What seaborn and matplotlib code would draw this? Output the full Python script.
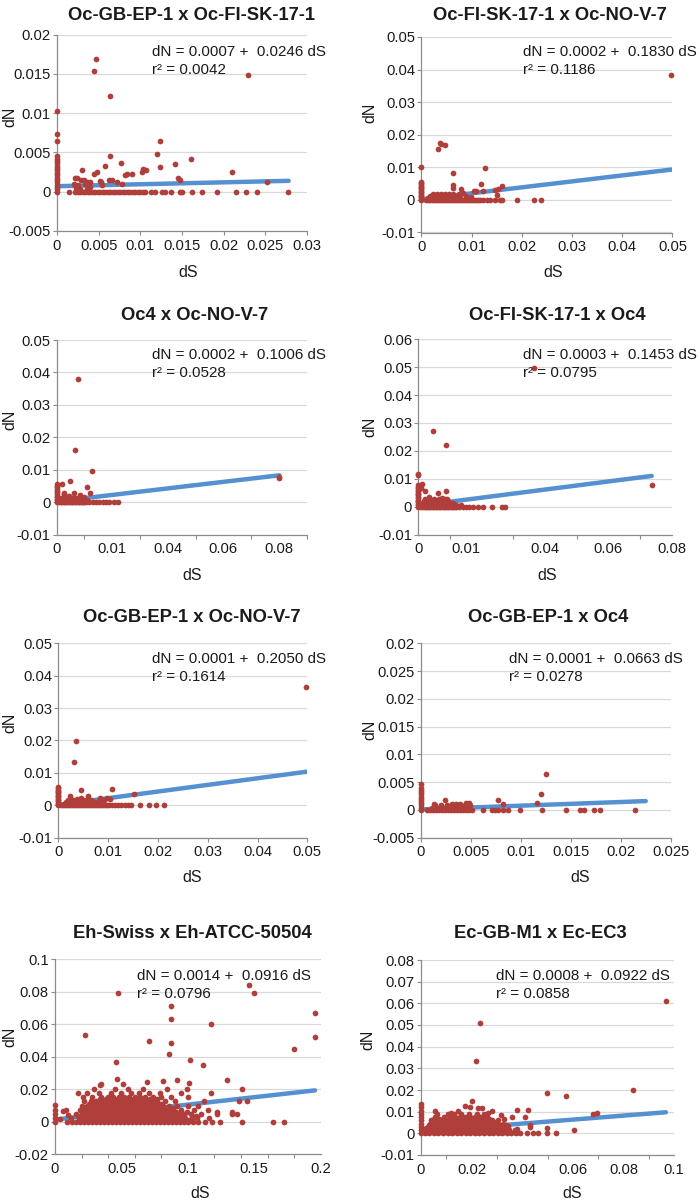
import numpy as np
import pandas as pd
import matplotlib.pyplot as plt
import seaborn as sns

sns.set_style("white")
plt.rcParams['font.family'] = ['Liberation Sans', 'DejaVu Sans']

DOT = '#B03E3A'
LINE = '#5590D0'
GRID = '#D9D9D9'
AXIS = '#8C8C8C'
W, H = 700, 1203

# ---------------------------------------------------------------------------
# Panel text
# ---------------------------------------------------------------------------
titles = ['Oc-GB-EP-1 x Oc-FI-SK-17-1', 'Oc-FI-SK-17-1 x Oc-NO-V-7',
          'Oc4 x Oc-NO-V-7', 'Oc-FI-SK-17-1 x Oc4',
          'Oc-GB-EP-1 x Oc-NO-V-7', 'Oc-GB-EP-1 x Oc4',
          'Eh-Swiss x Eh-ATCC-50504', 'Ec-GB-M1 x Ec-EC3']
intercepts = [0.0007, 0.0002, 0.0002, 0.0003, 0.0001, 0.0001, 0.0014, 0.0008]
slopes = [0.0246, 0.1830, 0.1006, 0.1453, 0.2050, 0.0663, 0.0916, 0.0922]
r_squared = ['0.0042', '0.1186', '0.0528', '0.0795', '0.1614', '0.0278', '0.0796', '0.0858']
fit_end = [0.0278, 0.05, 0.0802, 0.0737, 0.05, 0.0225, 0.1957, 0.0968]

# ---------------------------------------------------------------------------
# Points: on the dS = 0 axis, on the dN = 0 line, rows of dense clusters, others
# ---------------------------------------------------------------------------
p1_axis_dn = [0, 0.0003, 0.0006, 0.0009, 0.0012, 0.0015, 0.0018, 0.0021, 0.0024, 0.0027,
              0.003, 0.0033, 0.0036, 0.0039, 0.0042, 0.0045, 0.0065, 0.0074, 0.0103]
p1_zero_ds = [0.0014, 0.0022, 0.0025, 0.0028, 0.0031, 0.0034, 0.0037, 0.004, 0.0043, 0.0046,
              0.0049, 0.0052, 0.0055, 0.0058, 0.0061, 0.0064, 0.0067, 0.007, 0.0073, 0.0076,
              0.0079, 0.0082, 0.0085, 0.0088, 0.0091, 0.0094, 0.0097, 0.01, 0.0103, 0.0106,
              0.0113, 0.0117, 0.0126, 0.013, 0.0137, 0.0147, 0.015, 0.0162, 0.0174, 0.0192,
              0.0215, 0.0227, 0.024, 0.0277]
p1_points = [(0.0047, 0.0169), (0.0044, 0.0154), (0.0229, 0.0148), (0.0064, 0.0122),
             (0.0124, 0.0065), (0.012, 0.0048), (0.0064, 0.0046), (0.0161, 0.0042),
             (0.0077, 0.0037), (0.0142, 0.0035), (0.0058, 0.0033), (0.0124, 0.0031),
             (0.003, 0.0028), (0.0107, 0.0028), (0.0103, 0.0029), (0.0102, 0.0025),
             (0.0048, 0.0025), (0.0044, 0.0023), (0.009, 0.0023), (0.0084, 0.0023),
             (0.0081, 0.0021), (0.021, 0.0025), (0.0145, 0.0017), (0.0147, 0.0015),
             (0.0021, 0.0017), (0.0024, 0.0017), (0.0032, 0.0015), (0.0029, 0.0015),
             (0.0036, 0.0012), (0.002, 0.001), (0.0025, 0.0008), (0.0034, 0.001),
             (0.004, 0.0012), (0.0053, 0.0012), (0.0062, 0.0015), (0.0066, 0.0015),
             (0.0072, 0.0012), (0.0078, 0.001), (0.0051, 0.0013), (0.0054, 0.0008),
             (0.0039, 0.0006), (0.0036, 0.0004), (0.0252, 0.0012), (0.0028, 0.0003),
             (0.0023, 0.0005)]

p2_axis_dn = [0, 0.0004, 0.0008, 0.0012, 0.0016, 0.002, 0.0024, 0.0028, 0.0032, 0.0036,
              0.004, 0.0044, 0.0048, 0.0052, 0.0056, 0.0102]
p2_zero_ds = [0.0008, 0.0012, 0.0016, 0.002, 0.0024, 0.0028, 0.0032, 0.0036, 0.004, 0.0044,
              0.0048, 0.0052, 0.0056, 0.006, 0.0064, 0.0068, 0.0072, 0.0076, 0.008, 0.0084,
              0.0088, 0.0092, 0.0096, 0.01, 0.0104, 0.0108, 0.0112, 0.0117, 0.0123, 0.013,
              0.0136, 0.0147, 0.0156, 0.0161, 0.0191, 0.0224, 0.0238]
p2_rows = [(0.0006, [0.0012, 0.002, 0.0028, 0.0036, 0.0044, 0.0052, 0.006, 0.0068, 0.0076]),
           (0.0012, [0.0016, 0.0024, 0.0032, 0.004, 0.0048, 0.0056, 0.0064, 0.0072]),
           (0.0018, [0.0022, 0.003, 0.0038, 0.0046, 0.0054, 0.0062])]
p2_points = [(0.0497, 0.0383), (0.0037, 0.0175), (0.0039, 0.0172), (0.0047, 0.017),
             (0.0033, 0.0156), (0.0063, 0.0082), (0.0127, 0.0097), (0.0119, 0.0048),
             (0.0063, 0.0045), (0.0063, 0.0036), (0.0161, 0.0042), (0.0152, 0.0032),
             (0.0146, 0.0029), (0.015, 0.0014), (0.0104, 0.0028), (0.0109, 0.0026),
             (0.0123, 0.0028), (0.0078, 0.0035), (0.0075, 0.0017), (0.0089, 0.0012),
             (0.0098, 0.0008), (0.0083, 0.0022)]

p3_axis_dn = [0, 0.0005, 0.001, 0.0015, 0.002, 0.0025, 0.003, 0.0035, 0.004, 0.0045,
              0.005, 0.0055]
p3_zero_ds = [0.001, 0.0015, 0.002, 0.0025, 0.003, 0.0035, 0.004, 0.0045, 0.005, 0.0055,
              0.006, 0.0065, 0.007, 0.0075, 0.008, 0.0085, 0.009, 0.0095, 0.01, 0.0107,
              0.0118, 0.013, 0.0142, 0.0153, 0.0165, 0.0177, 0.0188, 0.0205, 0.022]
p3_rows = [(0.0006, [0.0012, 0.002, 0.0028, 0.0036, 0.0044, 0.0052, 0.006, 0.0068, 0.0076,
                     0.0084, 0.0092, 0.01, 0.0108]),
           (0.0013, [0.0016, 0.0026, 0.0036, 0.0046, 0.0056, 0.0066, 0.0076, 0.0086, 0.0096])]
p3_points = [(0.0076, 0.038), (0.0067, 0.0161), (0.0128, 0.0096), (0.0048, 0.0064),
             (0.0018, 0.0055), (0.0108, 0.0048), (0.012, 0.0028), (0.0025, 0.0025),
             (0.0028, 0.0027), (0.0063, 0.0028), (0.0083, 0.0023), (0.0097, 0.0017),
             (0.0088, 0.0012), (0.0032, 0.0012), (0.0042, 0.0009), (0.0052, 0.0014),
             (0.0045, 0.002), (0.0802, 0.0073), (0.0802, 0.0078)]

p4_axis_dn = [0, 0.0005, 0.001, 0.0015, 0.002, 0.0025, 0.003, 0.0035, 0.004, 0.0045,
              0.005, 0.0055, 0.006, 0.0065, 0.007, 0.0078, 0.0112, 0.0116]
p4_zero_ds = [0.001, 0.0015, 0.002, 0.0025, 0.003, 0.0035, 0.004, 0.0045, 0.005, 0.0055,
              0.006, 0.0065, 0.007, 0.0075, 0.008, 0.0085, 0.009, 0.0095, 0.01, 0.0105,
              0.011, 0.0115, 0.012, 0.013, 0.014, 0.015, 0.016, 0.0172, 0.019, 0.0205,
              0.0232, 0.0263, 0.0274]
p4_rows = [(0.0006, [0.0012, 0.0018, 0.0024, 0.003, 0.0036, 0.0042, 0.0048, 0.0054, 0.006,
                     0.0066, 0.0072, 0.0078, 0.0084, 0.009, 0.0096, 0.0104, 0.0112, 0.012,
                     0.0135]),
           (0.0012, [0.0015, 0.0021, 0.0027, 0.0033, 0.0039, 0.0045, 0.0051, 0.0057, 0.0063,
                     0.0069, 0.0075, 0.0081, 0.0087, 0.0093, 0.0101, 0.011]),
           (0.0019, [0.0018, 0.0025, 0.0032, 0.004, 0.0047, 0.0055, 0.0062, 0.007, 0.0078,
                     0.0086, 0.0095]),
           (0.0026, [0.0022, 0.0035, 0.0049, 0.0066, 0.0083, 0.009])]
p4_points = [(0.0047, 0.0272), (0.0086, 0.0221), (0.0366, 0.0496), (0.0063, 0.005),
             (0.0087, 0.0056), (0.0022, 0.0055), (0.0012, 0.008), (0.0008, 0.0065),
             (0.0737, 0.0076), (0.0035, 0.0033), (0.0075, 0.0031)]

p5_axis_dn = [0, 0.0004, 0.0008, 0.0012, 0.0016, 0.002, 0.0024, 0.0028, 0.0032, 0.0036,
              0.004, 0.0044, 0.0048, 0.0052, 0.0056]
p5_zero_ds = [0.0006, 0.001, 0.0014, 0.0018, 0.0022, 0.0026, 0.003, 0.0034, 0.0038, 0.0042,
              0.0046, 0.005, 0.0054, 0.0058, 0.0062, 0.0066, 0.007, 0.0074, 0.0078, 0.0082,
              0.0086, 0.009, 0.0094, 0.0098, 0.0102, 0.0107, 0.0113, 0.0119, 0.0126, 0.0133,
              0.0139, 0.0145, 0.0164, 0.0182, 0.0197, 0.0213]
p5_rows = [(0.0005, [0.0012, 0.002, 0.0028, 0.0036, 0.0044, 0.0052, 0.006, 0.0068, 0.0076,
                     0.0084]),
           (0.001, [0.0016, 0.0024, 0.0032, 0.004, 0.0048, 0.0056, 0.0064, 0.0072, 0.008]),
           (0.0015, [0.002, 0.003, 0.004, 0.005, 0.0058, 0.0066])]
p5_points = [(0.0497, 0.0366), (0.0036, 0.0199), (0.0031, 0.0132), (0.0046, 0.0046),
             (0.0107, 0.0049), (0.0152, 0.0035), (0.0024, 0.0027), (0.006, 0.0028),
             (0.0097, 0.0022), (0.0083, 0.0023), (0.0103, 0.0018), (0.0082, 0.0013),
             (0.0045, 0.0022), (0.0038, 0.0018), (0.0055, 0.0016), (0.0068, 0.0012),
             (0.0092, 0.0016)]

p6_axis_dn = [0, 0.0004, 0.0008, 0.0012, 0.0016, 0.002, 0.0024, 0.0028, 0.0032, 0.0036,
              0.004, 0.0047]
p6_zero_ds = [0.0006, 0.0009, 0.0012, 0.0015, 0.0018, 0.0021, 0.0024, 0.0027, 0.003, 0.0033,
              0.0036, 0.0039, 0.0042, 0.0045, 0.0048, 0.0051, 0.0062, 0.0071, 0.0074, 0.0077,
              0.0082, 0.0087, 0.0099, 0.0121, 0.0145, 0.0159, 0.0163, 0.0173, 0.0179, 0.0214]
p6_rows = [(0.0004, [0.0011, 0.0017, 0.0023, 0.0029, 0.0035, 0.0041, 0.0047]),
           (0.0008, [0.0014, 0.002, 0.0026, 0.0032, 0.0038, 0.0044, 0.0049]),
           (0.0011, [0.0031, 0.0035, 0.0039, 0.0046])]
p6_points = [(0.0125, 0.0064), (0.012, 0.0028), (0.0116, 0.0013), (0.0077, 0.0018),
             (0.0082, 0.001), (0.0024, 0.0018), (0.0013, 0.001), (0.0045, 0.0012),
             (0.0048, 0.0013)]

p7_axis_dn = [0, 0.0025, 0.005, 0.0075, 0.0105]
p7_zero_ds = [0.009, 0.013, 0.124, 0.141, 0.164, 0.172]
p7_rows = [
    (0.0, [0.016, 0.019, 0.022, 0.025, 0.028, 0.031, 0.034, 0.037, 0.04, 0.043, 0.046,
           0.049, 0.052, 0.055, 0.058, 0.061, 0.064, 0.067, 0.07, 0.073, 0.076, 0.079, 0.082,
           0.085, 0.088, 0.091, 0.094, 0.097, 0.1, 0.104, 0.108, 0.113, 0.118]),
    (0.00125, [0.02, 0.0235, 0.0265, 0.0295, 0.0325, 0.0355, 0.0385, 0.0415, 0.0445, 0.0475,
               0.0505, 0.0535, 0.0565, 0.0595, 0.0625, 0.0655, 0.0685, 0.0715, 0.0745, 0.0775,
               0.0805, 0.0835, 0.0865, 0.0895, 0.0925, 0.096, 0.101]),
    (0.0025, [0.012, 0.018, 0.021, 0.024, 0.027, 0.03, 0.033, 0.036, 0.039, 0.042, 0.045,
              0.048, 0.051, 0.054, 0.057, 0.06, 0.063, 0.066, 0.069, 0.072, 0.075, 0.078,
              0.081, 0.084, 0.087, 0.09, 0.094, 0.098, 0.103, 0.107, 0.116]),
    (0.00375, [0.0175, 0.0215, 0.0245, 0.0275, 0.0305, 0.0335, 0.0365, 0.0395, 0.0425, 0.0455,
               0.0485, 0.0515, 0.0545, 0.0575, 0.0605, 0.0635, 0.0665, 0.0695, 0.0725, 0.0755,
               0.0785, 0.0815, 0.0845, 0.0875, 0.0905, 0.0955, 0.106]),
    (0.005, [0.016, 0.02, 0.023, 0.026, 0.029, 0.032, 0.035, 0.038, 0.041, 0.044, 0.047,
             0.05, 0.053, 0.056, 0.059, 0.062, 0.065, 0.068, 0.071, 0.074, 0.077, 0.08, 0.083,
             0.086, 0.089, 0.093, 0.097, 0.102, 0.11, 0.122, 0.133]),
    (0.00625, [0.0205, 0.0245, 0.0275, 0.0305, 0.0335, 0.0365, 0.0395, 0.0425, 0.0455, 0.0485,
               0.0515, 0.0545, 0.0575, 0.0605, 0.0635, 0.0665, 0.0695, 0.0725, 0.0755, 0.0785,
               0.0815, 0.0845, 0.0875, 0.091, 0.099]),
    (0.0075, [0.008, 0.019, 0.022, 0.025, 0.028, 0.031, 0.034, 0.037, 0.04, 0.043, 0.046,
              0.049, 0.052, 0.055, 0.058, 0.061, 0.064, 0.067, 0.07, 0.073, 0.076, 0.079,
              0.082, 0.085, 0.089, 0.095, 0.105, 0.115]),
    (0.00875, [0.0215, 0.0255, 0.0285, 0.0315, 0.0345, 0.0375, 0.0405, 0.0435, 0.0465, 0.0495,
               0.0525, 0.0555, 0.0585, 0.0615, 0.0645, 0.0675, 0.0705, 0.0735, 0.0765, 0.0795,
               0.0835, 0.0885]),
    (0.01, [0.02, 0.024, 0.027, 0.03, 0.033, 0.036, 0.039, 0.042, 0.045, 0.048, 0.051,
            0.054, 0.057, 0.06, 0.063, 0.066, 0.069, 0.072, 0.075, 0.078, 0.081, 0.086,
            0.092, 0.1, 0.108]),
    (0.01125, [0.0255, 0.0295, 0.0325, 0.0355, 0.0385, 0.0415, 0.0445, 0.0475, 0.0505, 0.0535,
               0.0565, 0.0595, 0.0625, 0.0655, 0.0685, 0.0715, 0.0745, 0.0795]),
    (0.0125, [0.022, 0.027, 0.031, 0.034, 0.037, 0.04, 0.043, 0.046, 0.049, 0.052, 0.055,
              0.058, 0.061, 0.064, 0.067, 0.07, 0.073, 0.077, 0.083, 0.09, 0.112]),
    (0.01375, [0.0335, 0.0385, 0.0425, 0.0465, 0.0505, 0.0545, 0.0585, 0.0625, 0.0665, 0.0715,
               0.077]),
    (0.015, [0.021, 0.028, 0.035, 0.04, 0.044, 0.048, 0.052, 0.056, 0.06, 0.064, 0.068,
             0.074, 0.08, 0.087, 0.1]),
    (0.0175, [0.017, 0.024, 0.033, 0.042, 0.05, 0.057, 0.063, 0.071, 0.079, 0.095]),
    (0.02, [0.029, 0.045, 0.055, 0.066, 0.084, 0.099]),
]
p7_points = [(0.0477, 0.079), (0.146, 0.0842), (0.1498, 0.079), (0.1957, 0.0671),
             (0.1957, 0.0524), (0.0876, 0.0715), (0.0873, 0.0632), (0.0873, 0.0485),
             (0.086, 0.0419), (0.0228, 0.0534), (0.071, 0.0495), (0.1172, 0.0602),
             (0.18, 0.0446), (0.046, 0.0365), (0.1016, 0.0378), (0.1114, 0.0351),
             (0.1295, 0.0255), (0.141, 0.0203), (0.1445, 0.0125), (0.1385, 0.0125),
             (0.1368, 0.005), (0.133, 0.006), (0.1172, 0.0175), (0.1005, 0.024),
             (0.092, 0.0255), (0.047, 0.0263), (0.0345, 0.0232), (0.0335, 0.0225),
             (0.0515, 0.0235), (0.0695, 0.0245), (0.0815, 0.025), (0.004, 0.002),
             (0.01, 0.004), (0.006, 0.0065), (0.122, 0.006), (0.107, 0.003)]

p8_axis_dn = [0, 0.0015, 0.003, 0.0045, 0.006, 0.0075, 0.009, 0.0105, 0.012, 0.0135]
p8_zero_ds = [0.039, 0.0418, 0.0442, 0.0464, 0.0497, 0.0532]
p8_rows = [
    (0.0, [0.0015, 0.0033, 0.0051, 0.0069, 0.0087, 0.0105, 0.0123, 0.0141, 0.0159, 0.0177,
           0.0195, 0.0213, 0.0231, 0.0249, 0.0267, 0.0285, 0.0303, 0.0321, 0.0339, 0.0357,
           0.0375]),
    (0.00075, [0.0024, 0.0042, 0.006, 0.0078, 0.0096, 0.0114, 0.0132, 0.015, 0.0168, 0.0186,
               0.0204, 0.0222, 0.024, 0.0258, 0.0276, 0.0294, 0.0312, 0.033, 0.0348, 0.0366]),
    (0.0015, [0.0024, 0.0042, 0.006, 0.0078, 0.0096, 0.0114, 0.0132, 0.015, 0.0168, 0.0186,
              0.0204, 0.0222, 0.024, 0.0258, 0.0276, 0.0294, 0.0312, 0.033, 0.0348, 0.037]),
    (0.00225, [0.0019, 0.0037, 0.0055, 0.0073, 0.0091, 0.0109, 0.0127, 0.0145, 0.0163, 0.0181,
               0.0199, 0.0217, 0.0235, 0.0253, 0.0271, 0.0289, 0.0307, 0.0325, 0.0343]),
    (0.003, [0.0028, 0.0046, 0.0064, 0.0082, 0.01, 0.0118, 0.0136, 0.0154, 0.0172, 0.019,
             0.0208, 0.0226, 0.0244, 0.0262, 0.028, 0.0298, 0.0316, 0.0334, 0.0432]),
    (0.00375, [0.0031, 0.0049, 0.0067, 0.0085, 0.0103, 0.0121, 0.0139, 0.0157, 0.0175, 0.0193,
               0.0211, 0.0229, 0.0247, 0.0265, 0.0283, 0.0301, 0.0319, 0.0337]),
    (0.0045, [0.0035, 0.0053, 0.0071, 0.0089, 0.0107, 0.0125, 0.0143, 0.0161, 0.0179,
              0.0197, 0.0215, 0.0233, 0.0251, 0.0269, 0.0287, 0.0305, 0.0323]),
    (0.00525, [0.0044, 0.0062, 0.008, 0.0098, 0.0116, 0.0134, 0.0152, 0.017, 0.0188, 0.0206,
               0.0224, 0.0242, 0.026, 0.0278, 0.0296]),
    (0.006, [0.004, 0.006, 0.008, 0.01, 0.012, 0.014, 0.016, 0.018, 0.02, 0.022, 0.024,
             0.026, 0.028, 0.0305]),
    (0.0068, [0.005, 0.007, 0.009, 0.011, 0.013, 0.015, 0.017, 0.019, 0.021, 0.023, 0.025,
              0.027]),
    (0.0075, [0.0055, 0.009, 0.0115, 0.0135, 0.0155, 0.0175, 0.0195, 0.0215, 0.0235, 0.026]),
    (0.009, [0.0065, 0.0105, 0.013, 0.016, 0.019, 0.022, 0.025]),
]
p8_points = [(0.0968, 0.061), (0.0233, 0.051), (0.0217, 0.0334), (0.0497, 0.0187),
             (0.0573, 0.0171), (0.0837, 0.0202), (0.0679, 0.0088), (0.0697, 0.0093),
             (0.0606, 0.0015), (0.0497, 0.0023), (0.0424, 0.0106), (0.041, 0.0076),
             (0.0432, 0.004), (0.0378, 0.0106), (0.036, 0.0075), (0.0345, 0.0035),
             (0.02, 0.0149), (0.0172, 0.0125), (0.0195, 0.012), (0.0225, 0.0115),
             (0.0145, 0.0105), (0.012, 0.0095), (0.0055, 0.0105), (0.028, 0.0103),
             (0.024, 0.0118), (0.0265, 0.0092), (0.0315, 0.0085), (0.033, 0.0065),
             (0.038, 0.002)]


def collect(axis_dn, zero_ds, points, rows=()):
    xs = [0.0] * len(axis_dn) + list(zero_ds) + [p[0] for p in points]
    ys = list(axis_dn) + [0.0] * len(zero_ds) + [p[1] for p in points]
    for y, row in rows:
        xs += row
        ys += [y] * len(row)
    return pd.DataFrame({'dS': xs, 'dN': ys})


panels = [collect(p1_axis_dn, p1_zero_ds, p1_points),
          collect(p2_axis_dn, p2_zero_ds, p2_points, p2_rows),
          collect(p3_axis_dn, p3_zero_ds, p3_points, p3_rows),
          collect(p4_axis_dn, p4_zero_ds, p4_points, p4_rows),
          collect(p5_axis_dn, p5_zero_ds, p5_points, p5_rows),
          collect(p6_axis_dn, p6_zero_ds, p6_points, p6_rows),
          collect(p7_axis_dn, p7_zero_ds, p7_points, p7_rows),
          collect(p8_axis_dn, p8_zero_ds, p8_points, p8_rows)]

# ---------------------------------------------------------------------------
# Axes set-up for every panel: limits, tick labels (as printed), tick marks
# ---------------------------------------------------------------------------
y_005 = ([-0.005, 0, 0.005, 0.01, 0.015, 0.02], ['-0.005', '0', '0.005', '0.01', '0.015', '0.02'])
y_01_5 = ([-0.01, 0, 0.01, 0.02, 0.03, 0.04, 0.05], ['-0.01', '0', '0.01', '0.02', '0.03', '0.04', '0.05'])
x_01_5 = ([0, 0.01, 0.02, 0.03, 0.04, 0.05], ['0', '0.01', '0.02', '0.03', '0.04', '0.05'])

axis_cfg = [
    dict(xlim=(0, 0.03), xt=([0, 0.005, 0.01, 0.015, 0.02, 0.025, 0.03],
                             ['0', '0.005', '0.01', '0.015', '0.02', '0.025', '0.03']),
         xm=None, ylim=(-0.005, 0.02), yt=y_005),
    dict(xlim=(0, 0.05), xt=x_01_5, xm=None, ylim=(-0.01, 0.05), yt=y_01_5),
    dict(xlim=(0, 0.09), xt=([0, 0.02, 0.04, 0.06, 0.08], ['0', '0.01', '0.04', '0.06', '0.08']),
         xm=[0.01, 0.03, 0.05, 0.07, 0.09], ylim=(-0.01, 0.05), yt=y_01_5),
    dict(xlim=(0, 0.08), xt=([0, 0.015, 0.04, 0.06, 0.08], ['0', '0.01', '0.04', '0.06', '0.08']),
         xm=[0.01, 0.03, 0.05, 0.07], ylim=(-0.01, 0.06),
         yt=([-0.01, 0, 0.01, 0.02, 0.03, 0.04, 0.05, 0.06],
             ['-0.01', '0', '0.01', '0.02', '0.03', '0.04', '0.05', '0.06'])),
    dict(xlim=(0, 0.05), xt=x_01_5, xm=None, ylim=(-0.01, 0.05), yt=y_01_5),
    dict(xlim=(0, 0.025), xt=([0, 0.005, 0.01, 0.015, 0.02, 0.025],
                              ['0', '0.005', '0.01', '0.015', '0.02', '0.025']),
         xm=None, ylim=(-0.005, 0.03),
         yt=([-0.005, 0, 0.005, 0.01, 0.015, 0.02, 0.025, 0.03],
             ['-0.005', '0', '0.005', '0.01', '0.015', '0.02', '0.025', '0.02'])),
    dict(xlim=(0, 0.2), xt=([0, 0.05, 0.1, 0.15, 0.2], ['0', '0.05', '0.1', '0.15', '0.2']),
         xm=[0.02, 0.04, 0.06, 0.08, 0.1, 0.12, 0.14, 0.16, 0.18, 0.2], ylim=(-0.02, 0.1),
         yt=([-0.02, 0, 0.02, 0.04, 0.06, 0.08, 0.1], ['-0.02', '0', '0.02', '0.04', '0.06', '0.08', '0.1'])),
    dict(xlim=(0, 0.1), xt=([0, 0.02, 0.04, 0.06, 0.08, 0.1], ['0', '0.02', '0.04', '0.06', '0.08', '0.1']),
         xm=[0.01, 0.03, 0.05, 0.07, 0.09], ylim=(-0.01, 0.08),
         yt=([-0.01, 0, 0.01, 0.02, 0.03, 0.04, 0.05, 0.06, 0.07, 0.08],
             ['-0.01', '0', '0.01', '0.02', '0.03', '0.04', '0.05', '0.06', '0.07', '0.08'])),
]

# layout in pixels: plot box (l, t, r, b), title centre, equation anchor, dN and dS labels
boxes = [(57, 34.5, 307, 231), (421.5, 37, 672.5, 232.5),
         (56.7, 340, 306.7, 534.5), (418.3, 339.3, 671.7, 534.5),
         (58.3, 643.3, 307.3, 837.5), (421, 643.3, 670.7, 837.7),
         (55, 959.3, 320.7, 1154.3), (421, 960, 674, 1155)]
title_pos = [(192, 15), (550, 15), (195, 315), (557, 315),
             (192, 617), (548, 617), (192, 933), (540, 933)]
eq_pos = [(151.7, 52.3), (523.3, 52.3), (151.7, 355), (523.3, 355),
          (151.7, 659.3), (509.3, 659.3), (137.3, 976), (496, 976)]
dn_pos = [(10, 117), (370, 113), (10, 420), (370, 427),
          (10, 723), (370, 730), (10, 1037), (368, 1040)]
ds_pos = [(188, 272), (553, 272), (192, 575), (547, 575),
          (192, 878), (580, 878), (200, 1193), (572, 1193)]

TICK_FS = 10.6
TEXT_FS = 10.9
LABEL_FS = 11.5
TITLE_FS = 13.2
INK = '#1A1A1A'

fig = plt.figure(figsize=(W / 100, H / 100), dpi=100)


def fx(x):
    return x / W


def fy(y):
    return 1 - y / H


for i, df in enumerate(panels):
    l, t, r, b = boxes[i]
    ax = fig.add_axes([fx(l), fy(b), (r - l) / W, (b - t) / H])
    cfg = axis_cfg[i]

    # trendline from the printed equation, behind the points
    fit = pd.DataFrame({'dS': [0.0, fit_end[i]]})
    fit['dN'] = intercepts[i] + slopes[i] * fit['dS']
    sns.lineplot(data=fit, x='dS', y='dN', ax=ax, color=LINE, lw=3.2, zorder=3)

    sns.scatterplot(data=df, x='dS', y='dN', ax=ax, color=DOT, s=17, linewidth=0,
                    zorder=4, clip_on=False)

    ax.set_xlim(*cfg['xlim'])
    ax.set_ylim(*cfg['ylim'])
    ax.set_xticks(cfg['xt'][0])
    ax.set_xticklabels(cfg['xt'][1])
    ax.set_yticks(cfg['yt'][0])
    ax.set_yticklabels(cfg['yt'][1])
    if cfg['xm'] is not None:
        ax.set_xticks(cfg['xm'], minor=True)
        ax.tick_params(axis='x', which='major', color=(0, 0, 0, 0))
        ax.tick_params(axis='x', which='minor', length=3, width=0.8, color=AXIS,
                       direction='out', bottom=True)
    else:
        ax.tick_params(axis='x', which='major', color=AXIS)
    ax.tick_params(axis='x', which='major', length=3, width=0.8, pad=2.5,
                   labelsize=TICK_FS, labelcolor=INK, direction='out', bottom=True)
    ax.tick_params(axis='y', which='major', length=3, width=0.8, pad=1.5, color=AXIS,
                   labelsize=TICK_FS, labelcolor=INK, direction='out', left=True)

    ax.yaxis.grid(True, color=GRID, lw=0.9)
    ax.xaxis.grid(False)
    ax.set_axisbelow(True)
    for side in ['top', 'right']:
        ax.spines[side].set_visible(False)
    for side in ['left', 'bottom']:
        ax.spines[side].set_color(AXIS)
        ax.spines[side].set_linewidth(0.9)
    ax.set_xlabel('')
    ax.set_ylabel('')

    fig.text(fx(title_pos[i][0]), fy(title_pos[i][1]), titles[i], ha='center', va='center',
             fontsize=TITLE_FS, fontweight='bold', color=INK)
    ex, ey = eq_pos[i]
    fig.text(fx(ex), fy(ey), f'dN = {intercepts[i]:.4f} +  {slopes[i]:.4f} dS',
             ha='left', va='center', fontsize=TEXT_FS, color=INK)
    fig.text(fx(ex), fy(ey + 18), f'r\u00b2 = {r_squared[i]}',
             ha='left', va='center', fontsize=TEXT_FS, color=INK)
    fig.text(fx(dn_pos[i][0]), fy(dn_pos[i][1]), 'dN', rotation=90, ha='center',
             va='center', fontsize=LABEL_FS, color=INK)
    fig.text(fx(ds_pos[i][0]), fy(ds_pos[i][1]), 'dS', ha='center', va='center',
             fontsize=LABEL_FS, color=INK)

fig.savefig('out.png', dpi=100, facecolor='white')
